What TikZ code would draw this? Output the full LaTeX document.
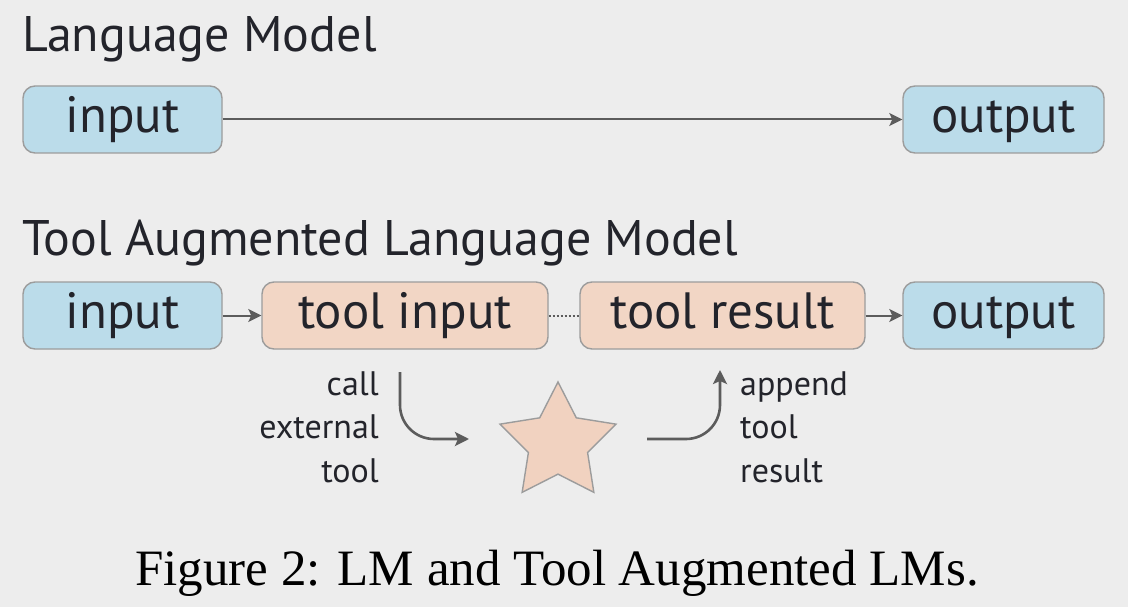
\documentclass[tikz,border=0pt]{standalone}
\usepackage{fontspec}
\setmainfont{PT Sans}
\newfontfamily\capfont{Liberation Serif}
\usetikzlibrary{shapes.geometric,arrows.meta,calc}
\definecolor{bgcol}{HTML}{EDEDED}
\definecolor{bluecol}{HTML}{BBDCEA}
\definecolor{orangecol}{HTML}{F2D6C5}
\definecolor{starcol}{HTML}{F1D2C0}
\definecolor{bordercol}{HTML}{9C9C9C}
\definecolor{txtcol}{HTML}{23242B}
\definecolor{arrcol}{HTML}{5C5C5C}
\tikzset{
  boxnode/.style={rounded corners=12pt, draw=bordercol, line width=1.4pt,
    minimum height=67pt, inner sep=0pt, text=txtcol,
    text height=36pt, text depth=10pt,
    font=\fontsize{51}{60}\selectfont},
  bluebox/.style={boxnode, fill=bluecol},
  orangebox/.style={boxnode, fill=orangecol},
  titletext/.style={anchor=base west, inner sep=0pt, text=txtcol,
    font=\fontsize{50}{58}\selectfont},
  smalllabel/.style={inner sep=0pt, text=txtcol,
    font=\fontsize{34}{40}\selectfont},
  conn/.style={draw=arrcol, line width=2pt,
    -{Stealth[length=13pt,width=13pt,inset=3pt]}},
  curveconn/.style={draw=arrcol, line width=2.6pt, rounded corners=34pt,
    -{Stealth[length=14pt,width=14pt,inset=3pt]}}
}
\begin{document}
\begin{tikzpicture}[x=1pt,y=-1pt]
\fill[bgcol] (0,0) rectangle (1128,607);
\useasboundingbox (0,0) rectangle (1128,607);

% Row 1
\node[titletext] (t1) at (22,52) {Language Model};
\node[bluebox, minimum width=199pt] (in1) at (122.5,119.5) {input};
\node[bluebox, minimum width=201pt] (out1) at (1003.5,119.5) {output};
\draw[conn] (in1) -- (out1);

% Row 2
\node[titletext] (t2) at (22,255) {Tool Augmented Language Model};
\node[bluebox, minimum width=199pt] (in2) at (122.5,315.5) {input};
\node[orangebox, minimum width=286pt] (ti) at (405,315.5) {tool input};
\node[orangebox, minimum width=285pt] (tr) at (722.5,315.5) {tool result};
\node[bluebox, minimum width=201pt] (out2) at (1003.5,315.5) {output};
\draw[conn] (in2) -- (ti);
\draw[conn] (tr) -- (out2);
\draw[draw=arrcol, line width=2pt, dotted] (ti) -- (tr);

% Star and curved arrows
\node[star, star points=5, star point ratio=1.96, minimum size=122pt,
  inner sep=0pt, fill=starcol, draw=bordercol, line width=1.4pt] (star) at (558,443) {};
\coordinate (a1) at (400,372);
\coordinate (a2) at (469,439);
\coordinate (b1) at (647,439);
\coordinate (b2) at (720,370);
\draw[curveconn] (a1) |- (a2);
\draw[curveconn] (b1) -| (b2);

% Labels
\node[smalllabel, anchor=base east] (l1) at (379,395) {call};
\node[smalllabel, anchor=base east] (l2) at (379,438) {external};
\node[smalllabel, anchor=base east] (l3) at (379,482) {tool};
\node[smalllabel, anchor=base west] (r1) at (740,395) {append};
\node[smalllabel, anchor=base west] (r2) at (740,438) {tool};
\node[smalllabel, anchor=base west] (r3) at (740,482) {result};

% Caption
\node[anchor=base, inner sep=0pt, text=black, font=\capfont\fontsize{51}{60}\selectfont] (cap) at (557,585) {Figure 2: LM and Tool Augmented LMs.};
\end{tikzpicture}
\end{document}
